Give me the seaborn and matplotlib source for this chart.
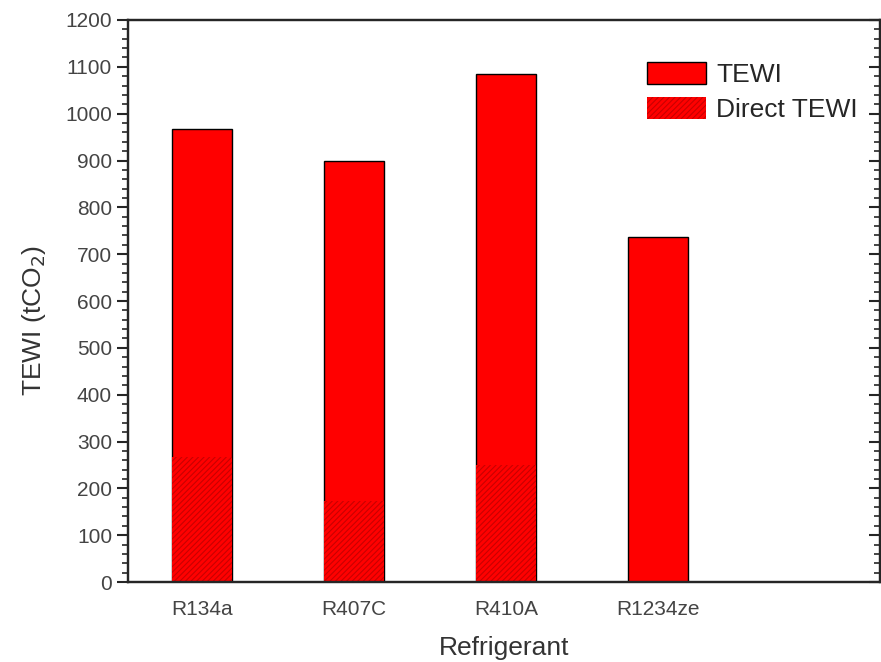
import pandas as pd
import matplotlib.pyplot as plt
import seaborn as sns
from matplotlib.patches import Patch
from matplotlib.ticker import MultipleLocator

sns.set_style("ticks")
plt.rcParams['font.family'] = ['Liberation Sans', 'DejaVu Sans']
plt.rcParams['hatch.linewidth'] = 0.8

refrigerants = ['R134a', 'R407C', 'R410A', 'R1234ze']
tewi = [968, 898, 1085, 736]
direct_tewi = [266, 172, 250, 0]

df = pd.DataFrame({'refrigerant': refrigerants, 'tewi': tewi, 'direct': direct_tewi})

fig = plt.figure(figsize=(8.81, 6.62), dpi=100)
ax = fig.add_axes([0.1453, 0.1208, 0.8535, 0.849])

red = '#ff0000'
hatch_col = '#c80000'
sns.barplot(data=df, x='refrigerant', y='tewi', color=red, width=0.4,
            edgecolor='black', linewidth=1.0, saturation=1, ax=ax)
sns.barplot(data=df, x='refrigerant', y='direct', color=red, width=0.4,
            edgecolor=hatch_col, linewidth=0, hatch='//////', saturation=1, ax=ax)

ax.set_xlim(-0.487, 4.46)
ax.set_ylim(0, 1200)
ax.yaxis.set_major_locator(MultipleLocator(100))
ax.yaxis.set_minor_locator(MultipleLocator(20))
ax.tick_params(axis='y', which='major', direction='out', length=8, width=1.5,
               labelsize=15, labelcolor='#444444')
ax.tick_params(axis='y', which='minor', direction='out', length=4, width=1.2)
ax.tick_params(axis='x', length=0, labelsize=15, labelcolor='#444444', pad=13)

# mirrored ticks on the right side, pointing inwards
ax2 = ax.twinx()
ax2.set_ylim(0, 1200)
ax2.yaxis.set_major_locator(MultipleLocator(100))
ax2.yaxis.set_minor_locator(MultipleLocator(20))
ax2.tick_params(axis='y', which='major', direction='in', length=8, width=1.5, labelright=False)
ax2.tick_params(axis='y', which='minor', direction='in', length=4, width=1.2)

for a in (ax, ax2):
    for s in a.spines.values():
        s.set_linewidth(1.6)
        s.set_visible(True)

ax.set_xlabel('Refrigerant', fontsize=19, color='#333333', labelpad=12)
ax.set_ylabel('TEWI (tCO$_2$)', fontsize=19, color='#333333')
ax.yaxis.set_label_coords(-0.106, 0.466)

handles = [Patch(facecolor=red, edgecolor='black', linewidth=1.0),
           Patch(facecolor=red, edgecolor=hatch_col, linewidth=0, hatch='//////')]
ax.legend(handles, ['TEWI', 'Direct TEWI'], loc='upper left',
          bbox_to_anchor=(0.658, 0.967), frameon=False, fontsize=19,
          handlelength=2.27, handleheight=0.87, handletextpad=0.38, labelspacing=0.38)

fig.savefig('out.png', dpi=100)
